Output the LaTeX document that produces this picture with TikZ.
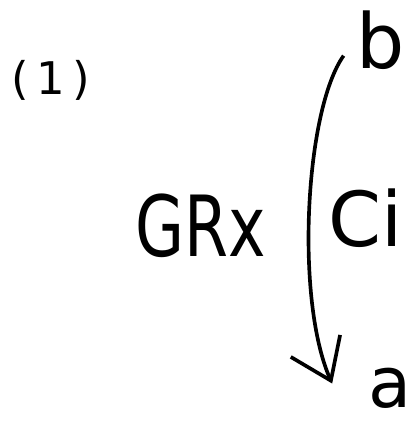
\documentclass[tikz,border=0pt]{standalone}
\usepackage{fontspec}
\setmainfont{DejaVu Sans}
\usetikzlibrary{arrows.meta, calc}

\begin{document}
\begin{tikzpicture}[x=0.025cm, y=-0.025cm,
        big/.style={inner sep=0pt, font=\fontsize{54}{60}\selectfont},
        small/.style={inner sep=0pt, font=\fontsize{32}{36}\selectfont},
        arr/.style={line width=2.6pt, -{Straight Barb[length=9.5mm, width=13.5mm, line width=2.6pt]}}]
        \useasboundingbox (0,0) rectangle (419,424);
        \node[small] (num) at (51,80) {(\,1\,)};
        \node[big] (b) at (381,40) {b};
        \node[big, font=\fontsize{60}{64}\selectfont, xscale=0.75] (gr) at (201,226) {GRx};
        \node[big] (ci) at (366,218) {Ci};
        \node[big, font=\fontsize{50}{56}\selectfont] (a) at (390,388) {a};
        \coordinate (top) at ($(b.south west)+(-13,-14)$);
        \coordinate (tip) at ($(a.north west)+(-36,16)$);
        \draw[arr] (top) .. controls (305,110) and (295,300) .. (tip);
      \end{tikzpicture}
\end{document}
